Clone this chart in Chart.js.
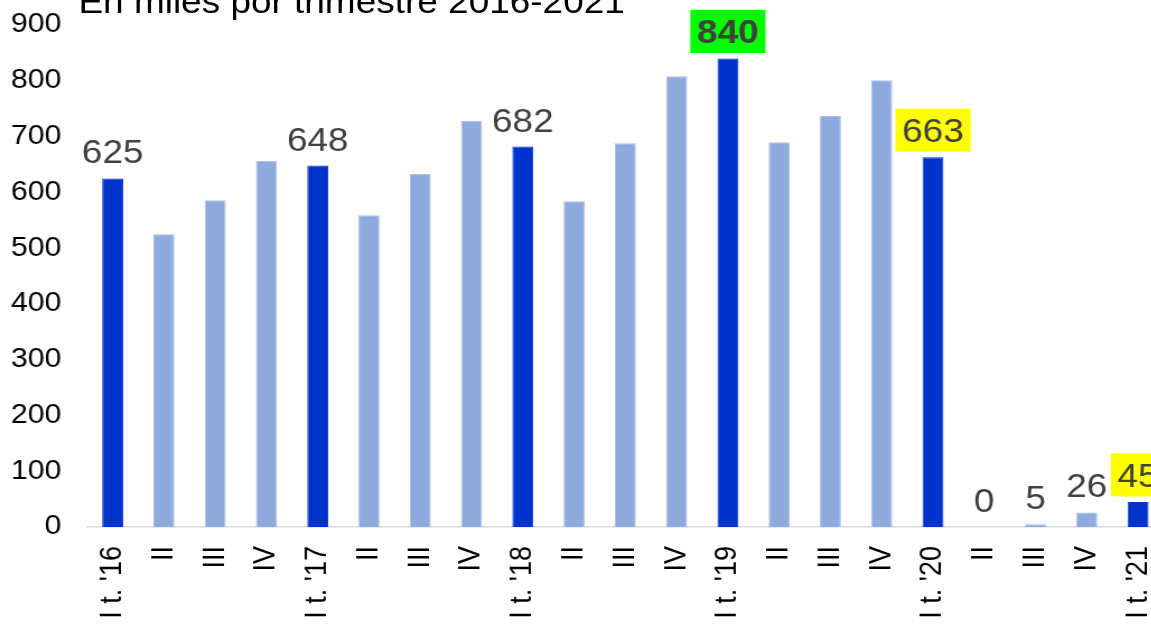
<!DOCTYPE html>
<html lang="es">
<head>
<meta charset="utf-8">
<script src="https://cdn.jsdelivr.net/npm/chart.js@4/dist/chart.umd.min.js"></script>
<style>
  html, body { margin: 0; padding: 0; background: #fff; overflow: hidden; }
  #marco {
    position: relative;
    width: 1045px;
    height: 700px;
    transform: scaleX(1.12); /* la imagen original viene estirada a lo ancho */
    transform-origin: 0 0;
  }
  #titulo {
    position: absolute;
    left: 70px;
    top: -15px;
    font: 33px "Liberation Sans", Arial, sans-serif;
    line-height: 33px;
    color: #000;
    white-space: nowrap;
  }
</style>
</head>
<body>
<div id="marco">
  <canvas id="grafico" width="1045" height="700"></canvas>
  <div id="titulo">En miles por trimestre 2016-2021</div>
</div>
<script>
// Datos: miles por trimestre
const trimestres = ["I t. '16", "II", "III", "IV", "I t. '17", "II", "III", "IV",
  "I t. '18", "II", "III", "IV", "I t. '19", "II", "III", "IV",
  "I t. '20", "II", "III", "IV", "I t. '21"];
const valores = [625, 525, 586, 656, 648, 559, 633, 728, 682, 584, 688, 808,
  840, 690, 737, 801, 663, 0, 5, 26, 45];
const ticksY = [0, 100, 200, 300, 400, 500, 600, 700, 800, 900];
const conEtiqueta = [0, 4, 8, 12, 16, 17, 18, 19, 20]; // barras con valor escrito

// Estilo
const FUENTE = '"Liberation Sans", Arial, sans-serif';
const AZUL = "#0033CC";
const AZUL_CLARO = "#8FAADC";
const resaltados = {
  12: { fondo: "#00FF00", negrita: true },
  16: { fondo: "#FFFF00" },
  20: { fondo: "#FFFF00" }
};

const esPrimerTrimestre = (t) => t.startsWith("I t.");

// plugin para escribir los valores sobre las barras
const etiquetasPlugin = {
  id: "etiquetas",
  afterDatasetsDraw(chart) {
    const ctx = chart.ctx;
    const meta = chart.getDatasetMeta(0);
    const tam = 33;
    ctx.save();
    ctx.textAlign = "center";
    ctx.textBaseline = "alphabetic";
    conEtiqueta.forEach((i) => {
      const barra = meta.data[i];
      const texto = String(valores[i]);
      const res = resaltados[i] || {};
      ctx.font = (res.negrita ? "bold " : "") + tam + "px " + FUENTE;
      const base = barra.y - 15;
      if (res.fondo) {
        const ancho = ctx.measureText(texto).width;
        ctx.fillStyle = res.fondo;
        ctx.fillRect(barra.x - ancho / 2 - 6, base - tam * 0.716 - 10, ancho + 12, tam * 0.716 + 19.5);
      }
      ctx.fillStyle = "#404040";
      ctx.fillText(texto, barra.x, base);
    });
    ctx.restore();
  }
};

const ctx = document.getElementById("grafico");
new Chart(ctx, {
  type: "bar",
  data: {
    labels: trimestres,
    datasets: [{
      data: valores,
      backgroundColor: trimestres.map((t) => esPrimerTrimestre(t) ? AZUL : AZUL_CLARO),
      borderColor: trimestres.map((t) => esPrimerTrimestre(t) ? AZUL : "#A9BFE6"),
      borderWidth: 1,
      barPercentage: 0.41,
      categoryPercentage: 1
    }]
  },
  options: {
    responsive: false,
    animation: false,
    layout: { padding: { top: 25, right: 6, left: 0, bottom: 0 } },
    plugins: {
      legend: { display: false },
      tooltip: { enabled: false }
    },
    scales: {
      x: {
        grid: { display: false, drawTicks: false },
        border: { display: true, color: "#D9D9D9", width: 1.5 },
        ticks: {
          autoSkip: false,
          minRotation: 90,
          maxRotation: 90,
          padding: 19,
          color: "#000",
          font: { family: FUENTE, size: 27 }
        },
        afterFit: (escala) => {
          escala.height = 173;
          escala.paddingLeft = 0;
          escala.paddingRight = 0;
        }
      },
      y: {
        min: 0,
        max: 900,
        grid: { display: false, drawTicks: false },
        border: { display: false },
        afterBuildTicks: (escala) => { escala.ticks = ticksY.map((v) => ({ value: v })); },
        ticks: {
          padding: 23,
          color: "#000",
          font: { family: FUENTE, size: 27 }
        },
        afterFit: (escala) => {
          escala.width = 77.7;
          escala.paddingTop = 0;
          escala.paddingBottom = 0;
        }
      }
    }
  },
  plugins: [etiquetasPlugin]
});
</script>
</body>
</html>
